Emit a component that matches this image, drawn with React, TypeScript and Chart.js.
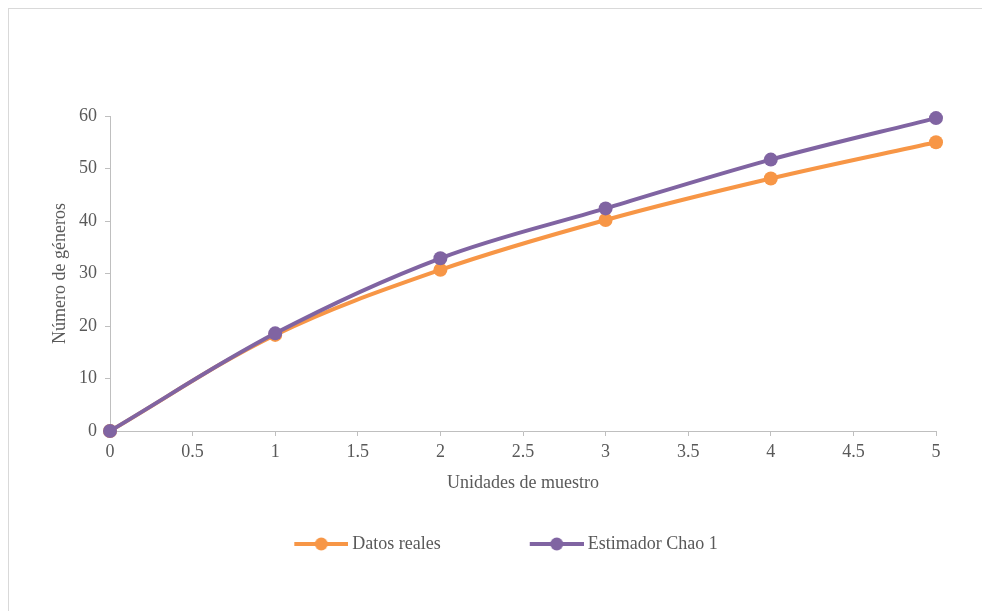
import React, { useEffect, useRef } from "react";
import { Chart, registerables } from "chart.js";

Chart.register(...registerables);

// ---- data ----
const unidades = [0, 1, 2, 3, 4, 5];
const datosReales = [0, 18.3, 30.7, 40.2, 48.1, 55];
const chao1 = [0, 18.6, 32.9, 42.4, 51.7, 59.6];
const seriesNames = ["Datos reales", "Estimador Chao 1"];
const seriesColors = ["#F79646", "#8064A2"];
const xTitle = "Unidades de muestro";
const yTitle = "Número de géneros";

const FONT = "'Liberation Serif', 'Times New Roman', serif";
const TEXT = "#595959";
const AXIS = "#bfbfbf";

const LEG_PAD = 25;
const LEG_BOX = 113;
const LEG_IMG_W = LEG_BOX + 10;

function legendImage(color: string): HTMLCanvasElement {
  const c = document.createElement("canvas");
  c.width = LEG_IMG_W;
  c.height = 18;
  const ctx = c.getContext("2d")!;
  ctx.strokeStyle = color;
  ctx.lineWidth = 4;
  ctx.beginPath();
  ctx.moveTo(LEG_IMG_W - 54, 9);
  ctx.lineTo(LEG_IMG_W, 9);
  ctx.stroke();
  ctx.fillStyle = color;
  ctx.beginPath();
  ctx.arc(LEG_IMG_W - 27, 9, 6.5, 0, Math.PI * 2);
  ctx.fill();
  return c;
}

export default function App() {
  const ref = useRef<HTMLCanvasElement | null>(null);

  useEffect(() => {
    if (!ref.current) return;
    const imgs = seriesColors.map(legendImage);
    const chart = new Chart(ref.current, {
      type: "line",
      data: {
        datasets: [
          {
            label: seriesNames[0],
            data: unidades.map((x, i) => ({ x, y: datosReales[i] })),
            borderColor: seriesColors[0],
            backgroundColor: seriesColors[0],
            pointBackgroundColor: seriesColors[0],
            pointBorderWidth: 0,
            pointRadius: 7,
            borderWidth: 4,
            tension: 0.35,
            clip: false as any,
            order: 1,
          },
          {
            label: seriesNames[1],
            data: unidades.map((x, i) => ({ x, y: chao1[i] })),
            borderColor: seriesColors[1],
            backgroundColor: seriesColors[1],
            pointBackgroundColor: seriesColors[1],
            pointBorderWidth: 0,
            pointRadius: 7,
            borderWidth: 4,
            tension: 0.35,
            clip: false as any,
            order: 0,
          },
        ],
      },
      options: {
        responsive: false,
        animation: false,
        layout: { padding: { left: 12, right: 46, top: 116, bottom: 48 } },
        scales: {
          x: {
            type: "linear",
            min: 0,
            max: 5,
            ticks: {
              stepSize: 0.5,
              color: TEXT,
              font: { family: FONT, size: 18 },
              padding: 5,
              callback: (v: any) => String(Number(v)),
            },
            grid: { drawOnChartArea: false, drawTicks: true, tickLength: 5, color: AXIS },
            border: { color: AXIS, width: 1 },
            title: {
              display: true,
              text: xTitle,
              color: TEXT,
              font: { family: FONT, size: 18 },
              padding: { top: 0, bottom: 16 },
            },
            afterFit: (s: any) => {
              s.height = 79;
            },
          },
          y: {
            type: "linear",
            min: 0,
            max: 60,
            ticks: {
              stepSize: 10,
              color: TEXT,
              font: { family: FONT, size: 18 },
              padding: 8,
              callback: (v: any) => String(Number(v)),
            },
            grid: { drawOnChartArea: false, drawTicks: true, tickLength: 5, color: AXIS },
            border: { color: AXIS, width: 1 },
            title: {
              display: true,
              text: yTitle,
              color: TEXT,
              font: { family: FONT, size: 18 },
              padding: { top: 37, bottom: 0 },
            },
            afterFit: (s: any) => {
              s.width = 98;
            },
          },
        },
        plugins: {
          tooltip: { enabled: false },
          legend: {
            display: true,
            position: "bottom",
            labels: {
              usePointStyle: true,
              pointStyleWidth: LEG_BOX,
              padding: LEG_PAD,
              color: TEXT,
              font: { family: FONT, size: 18 },
              generateLabels: () =>
                seriesNames.map((name, i) => ({
                  text: name,
                  fillStyle: seriesColors[i],
                  strokeStyle: seriesColors[i],
                  lineWidth: 0,
                  pointStyle: imgs[i] as any,
                  hidden: false,
                  datasetIndex: i,
                  fontColor: TEXT,
                })),
            },
          },
        },
      },
    });
    return () => chart.destroy();
  }, []);

  return (
    <div>
      <div
        style={{
          position: "fixed",
          left: 8,
          top: 8,
          right: -4,
          bottom: -4,
          borderTop: "1px solid #d9d9d9",
          borderLeft: "1px solid #d9d9d9",
        }}
      />
      <canvas
        ref={ref}
        width={982}
        height={611}
        style={{ position: "fixed", left: 0, top: 0, width: 982, height: 611 }}
      />
    </div>
  );
}
